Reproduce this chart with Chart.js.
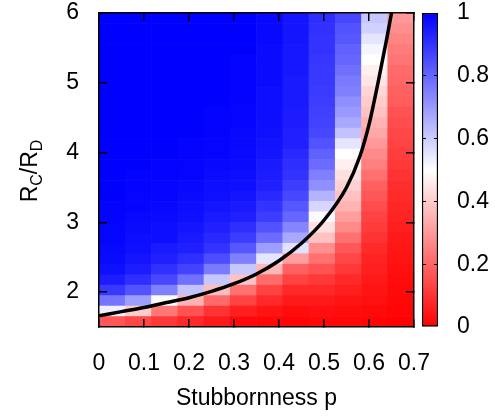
<!DOCTYPE html>
<html>
<head>
<meta charset="utf-8">
<script src="https://cdn.jsdelivr.net/npm/chart.js@4.4.1/dist/chart.umd.min.js"></script>
<style>
  html, body { margin: 0; padding: 0; background: #fff; }
  #wrap { position: relative; width: 501px; height: 418px; }
  #heat { position: absolute; left: 0; top: 0; }
  #bar { position: absolute; left: 414px; top: 0; }
</style>
</head>
<body>
<div id="wrap">
  <canvas id="heat" width="501" height="418"></canvas>
  <canvas id="bar" width="87" height="418"></canvas>
</div>
<script>
/* DATA */
const pCenters = [0.0292, 0.0875, 0.1458, 0.2042, 0.2625, 0.3208, 0.3792, 0.4375, 0.4958, 0.5542, 0.6125, 0.6708];
const rCenters = [1.575, 1.725, 1.875, 2.025, 2.175, 2.325, 2.475, 2.625, 2.775, 2.925,
                  3.075, 3.225, 3.375, 3.525, 3.675, 3.825, 3.975, 4.125, 4.275, 4.425,
                  4.575, 4.725, 4.875, 5.025, 5.175, 5.325, 5.475, 5.625, 5.775, 5.925];

// fraction per cell, one row per rCenters entry (bottom to top), one value per pCenters entry
const fraction = [
  [0.17, 0.14, 0.11, 0.08, 0.05, 0.02, 0.015, 0.01, 0.015, 0.015, 0.01, 0.005],
  [0.53, 0.40, 0.235, 0.16, 0.10, 0.06, 0.04, 0.025, 0.03, 0.025, 0.02, 0.01],
  [0.77, 0.69, 0.51, 0.35, 0.21, 0.13, 0.08, 0.05, 0.05, 0.04, 0.03, 0.015],
  [0.89, 0.84, 0.75, 0.62, 0.37, 0.22, 0.13, 0.08, 0.08, 0.06, 0.04, 0.02],
  [0.945, 0.91, 0.86, 0.78, 0.61, 0.38, 0.21, 0.13, 0.11, 0.08, 0.05, 0.025],
  [0.97, 0.945, 0.905, 0.87, 0.76, 0.61, 0.36, 0.19, 0.16, 0.11, 0.06, 0.03],
  [0.98, 0.96, 0.94, 0.91, 0.85, 0.75, 0.55, 0.31, 0.22, 0.14, 0.07, 0.04],
  [0.985, 0.97, 0.95, 0.94, 0.90, 0.83, 0.69, 0.56, 0.28, 0.17, 0.085, 0.045],
  [0.99, 0.975, 0.97, 0.95, 0.92, 0.88, 0.79, 0.67, 0.38, 0.22, 0.10, 0.05],
  [0.99, 0.98, 0.975, 0.96, 0.94, 0.91, 0.84, 0.74, 0.44, 0.27, 0.115, 0.06],
  [0.995, 0.985, 0.98, 0.97, 0.95, 0.94, 0.88, 0.80, 0.51, 0.31, 0.13, 0.07],
  [0.995, 0.99, 0.985, 0.975, 0.96, 0.95, 0.90, 0.83, 0.58, 0.35, 0.15, 0.075],
  [1, 0.99, 0.99, 0.98, 0.97, 0.96, 0.92, 0.86, 0.65, 0.38, 0.17, 0.085],
  [1, 0.995, 0.99, 0.985, 0.975, 0.97, 0.94, 0.88, 0.72, 0.41, 0.19, 0.09],
  [1, 0.995, 0.995, 0.99, 0.98, 0.975, 0.945, 0.90, 0.75, 0.44, 0.22, 0.10],
  [1, 1, 0.995, 0.99, 0.985, 0.98, 0.95, 0.91, 0.79, 0.47, 0.25, 0.11],
  [1, 1, 1, 0.995, 0.99, 0.98, 0.96, 0.92, 0.81, 0.50, 0.27, 0.12],
  [1, 1, 1, 0.995, 0.99, 0.985, 0.965, 0.94, 0.84, 0.55, 0.30, 0.13],
  [1, 1, 1, 1, 0.995, 0.985, 0.97, 0.94, 0.86, 0.62, 0.33, 0.14],
  [1, 1, 1, 1, 0.995, 0.99, 0.97, 0.945, 0.87, 0.67, 0.35, 0.15],
  [1, 1, 1, 1, 0.995, 0.99, 0.975, 0.945, 0.875, 0.70, 0.38, 0.16],
  [1, 1, 1, 1, 1, 0.99, 0.975, 0.95, 0.88, 0.72, 0.40, 0.18],
  [1, 1, 1, 1, 1, 0.995, 0.975, 0.95, 0.885, 0.75, 0.42, 0.19],
  [1, 1, 1, 1, 1, 0.995, 0.98, 0.95, 0.89, 0.76, 0.45, 0.20],
  [1, 1, 1, 1, 1, 0.995, 0.98, 0.955, 0.89, 0.78, 0.47, 0.21],
  [1, 1, 1, 1, 1, 0.995, 0.98, 0.955, 0.895, 0.80, 0.50, 0.23],
  [1, 1, 1, 1, 1, 1, 0.98, 0.955, 0.90, 0.81, 0.52, 0.24],
  [1, 1, 1, 1, 1, 1, 0.985, 0.96, 0.90, 0.83, 0.55, 0.26],
  [1, 1, 1, 1, 1, 1, 0.985, 0.96, 0.905, 0.84, 0.59, 0.28],
  [1, 1, 1, 1, 1, 1, 0.985, 0.96, 0.91, 0.86, 0.61, 0.30]
];

// boundary curve
const curveP = [0, 0.05, 0.1, 0.15, 0.2, 0.25, 0.3, 0.35, 0.4, 0.45, 0.5, 0.55, 0.58, 0.6, 0.62, 0.64, 0.65];
const curveR = [1.66, 1.72, 1.78, 1.85, 1.92, 2.01, 2.12, 2.26, 2.45, 2.70, 3.03, 3.50, 3.95, 4.40, 5.0, 5.65, 6.0];

const xTicks = [0, 0.1, 0.2, 0.3, 0.4, 0.5, 0.6, 0.7];
const yTicks = [2, 3, 4, 5, 6];
const cbTicks = [0, 0.2, 0.4, 0.6, 0.8, 1];

/* STYLE */
const FONT = "'Liberation Sans', Arial, Helvetica, sans-serif";
Chart.defaults.font.family = FONT;
Chart.defaults.font.size = 23;
Chart.defaults.color = "#000";

// red (0) -> white (0.5) -> blue (1)
function fracColor(v) {
    const t = Math.max(0, Math.min(1, v));
    if (t < 0.5) {
        const c = Math.round(510 * t);
        return "rgb(255," + c + "," + c + ")";
    }
    const c = Math.round(510 * (1 - t));
    return "rgb(" + c + "," + c + ",255)";
}

const setTicks = list => s => { s.ticks = list.map(v => ({ value: v })); };
const noPad = s => { s.paddingTop = s.paddingBottom = s.paddingLeft = s.paddingRight = 0; };

const frameGrid = { color: "#000", lineWidth: 1.5, drawOnChartArea: false, drawTicks: true, tickLength: -8, offset: false, z: 1 };
const frameBorder = { display: true, color: "#000", width: 1.5, z: 1 };

/* HEATMAP */
const dR = rCenters[1] - rCenters[0];

const rowSets = rCenters.map((r, k) => ({
    type: "bar",
    data: pCenters.map(p => ({ x: p, y: [r - dR / 2, r + dR / 2] })),
    backgroundColor: fraction[k].map(fracColor),
    borderWidth: 0,
    grouped: false,
    barPercentage: 1,
    categoryPercentage: 1,
    order: 1
}));

const curveSet = {
    type: "line",
    data: curveP.map((p, i) => ({ x: p, y: curveR[i] })),
    borderColor: "#000",
    borderWidth: 3.5,
    pointRadius: 0,
    fill: false,
    cubicInterpolationMode: "monotone",
    order: 0
};

// y title with subscripts: R_C/R_D
const yTitle = {
    id: "yTitle",
    afterDraw(chart) {
        const { ctx, chartArea } = chart;
        const parts = [["R", false], ["C", true], ["/R", false], ["D", true]];
        const big = "23px " + FONT, small = "16px " + FONT;
        ctx.save();
        let total = 0;
        const widths = parts.map(([t, sub]) => {
            ctx.font = sub ? small : big;
            const w = ctx.measureText(t).width;
            total += w;
            return w;
        });
        ctx.translate(28.5, (chartArea.top + chartArea.bottom) / 2 + 1);
        ctx.rotate(-Math.PI / 2);
        ctx.fillStyle = "#000";
        ctx.textBaseline = "alphabetic";
        let x = -total / 2;
        parts.forEach(([t, sub], i) => {
            ctx.font = sub ? small : big;
            ctx.fillText(t, x, sub ? 13.5 : 8.2);
            x += widths[i];
        });
        ctx.restore();
    }
};

new Chart(document.getElementById("heat"), {
    type: "bar",
    data: { datasets: [curveSet, ...rowSets] },
    plugins: [yTitle],
    options: {
        responsive: false,
        animation: false,
        events: [],
        layout: { padding: { left: 0, right: 87, top: 13, bottom: 0 } },
        plugins: { legend: { display: false }, tooltip: { enabled: false } },
        scales: {
            x: {
                type: "linear", position: "bottom", min: 0, max: 0.7, offset: false,
                grid: frameGrid, border: frameBorder,
                afterBuildTicks: setTicks(xTicks),
                ticks: { padding: 31, maxRotation: 0, autoSkip: false, callback: v => String(v) },
                title: { display: true, text: "Stubbornness p", padding: { top: 0, bottom: 6 } },
                afterFit: s => { s.height = 91; noPad(s); }
            },
            xTop: {
                type: "linear", position: "top", min: 0, max: 0.7, offset: false,
                grid: frameGrid, border: frameBorder,
                afterBuildTicks: setTicks(xTicks),
                ticks: { display: false },
                afterFit: s => { s.height = 0; noPad(s); }
            },
            y: {
                type: "linear", position: "left", min: 1.5, max: 6,
                grid: frameGrid, border: frameBorder,
                afterBuildTicks: setTicks(yTicks),
                ticks: { padding: 28, callback: v => String(v) },
                afterFit: s => { s.width = 99; noPad(s); }
            },
            yRight: {
                type: "linear", position: "right", min: 1.5, max: 6,
                grid: frameGrid, border: frameBorder,
                afterBuildTicks: setTicks(yTicks),
                ticks: { display: false },
                afterFit: s => { s.width = 0; noPad(s); }
            }
        }
    }
});

/* COLORBAR */
const cbGrid = {
    color: c => (c.tick && c.tick.value > 0 && c.tick.value < 1) ? "#000" : "rgba(0,0,0,0)",
    lineWidth: 1,
    drawOnChartArea: false,
    drawTicks: true,
    tickLength: -4,
    z: 1
};

new Chart(document.getElementById("bar"), {
    type: "bar",
    data: {
        labels: [""],
        datasets: [{
            data: [[cbTicks[0], cbTicks[cbTicks.length - 1]]],
            backgroundColor: c => {
                const chart = c.chart;
                if (!chart.chartArea) return null;
                const y = chart.scales.y;
                const g = chart.ctx.createLinearGradient(0, y.getPixelForValue(0), 0, y.getPixelForValue(1));
                g.addColorStop(0, fracColor(0));
                g.addColorStop(0.5, fracColor(0.5));
                g.addColorStop(1, fracColor(1));
                return g;
            },
            borderColor: "#000",
            borderWidth: 1.5,
            borderSkipped: false,
            barPercentage: 1,
            categoryPercentage: 1
        }]
    },
    options: {
        responsive: false,
        animation: false,
        events: [],
        layout: { padding: { left: 8, right: 0, top: 13, bottom: 91 } },
        plugins: { legend: { display: false }, tooltip: { enabled: false } },
        scales: {
            x: { display: false },
            y: {
                position: "right", min: 0, max: 1,
                grid: cbGrid, border: { display: false },
                afterBuildTicks: setTicks(cbTicks),
                ticks: { padding: 23, callback: v => String(v) },
                afterFit: s => { s.width = 63; noPad(s); }
            },
            yLeft: {
                type: "linear", position: "left", min: 0, max: 1,
                grid: cbGrid, border: { display: false },
                afterBuildTicks: setTicks(cbTicks),
                ticks: { display: false },
                afterFit: s => { s.width = 0; noPad(s); }
            }
        }
    }
});
</script>
</body>
</html>
